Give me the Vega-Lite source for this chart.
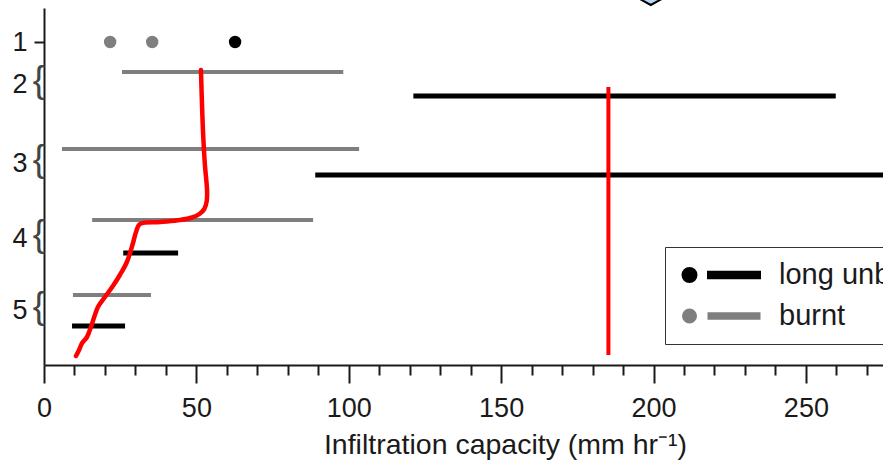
{
  "$schema": "https://vega.github.io/schema/vega-lite/v6.json",
  "width": 839,
  "height": 357,
  "autosize": {"type": "none"},
  "padding": {"left": 44, "top": 8, "right": 0, "bottom": 103},
  "background": "white",
  "config": {
    "view": {"stroke": null},
    "font": "Liberation Sans",
    "axis": {
      "labelFont": "Liberation Sans",
      "titleFont": "Liberation Sans",
      "labelColor": "#1a1a1a",
      "titleColor": "#1a1a1a",
      "domainColor": "#1a1a1a",
      "tickColor": "#1a1a1a",
      "domainWidth": 2,
      "tickWidth": 2,
      "grid": false
    }
  },
  "datasets": {
    "segments": [
      {"group": "burnt", "row": 2, "pos": 6.4, "value": 25.6, "hi": 98.2},
      {"group": "long unburnt", "row": 2, "pos": 8.8, "value": 121.2, "hi": 259.8},
      {"group": "burnt", "row": 3, "pos": 14.1, "value": 5.9, "hi": 103.4},
      {"group": "long unburnt", "row": 3, "pos": 16.7, "value": 89.0, "hi": 300},
      {"group": "burnt", "row": 4, "pos": 21.2, "value": 15.8, "hi": 88.3},
      {"group": "long unburnt", "row": 4, "pos": 24.5, "value": 26.0, "hi": 44.0},
      {"group": "burnt", "row": 5, "pos": 28.7, "value": 9.5, "hi": 35.1},
      {"group": "long unburnt", "row": 5, "pos": 31.8, "value": 9.2, "hi": 26.6}
    ],
    "points": [
      {"group": "burnt", "row": 1, "pos": 3.4, "value": 21.7},
      {"group": "burnt", "row": 1, "pos": 3.4, "value": 35.5},
      {"group": "long unburnt", "row": 1, "pos": 3.4, "value": 62.7}
    ],
    "curve": [
      {"seq": 1, "value": 51.5, "pos": 6.2},
      {"seq": 2, "value": 51.8, "pos": 9.2},
      {"seq": 3, "value": 52.2, "pos": 12.5},
      {"seq": 4, "value": 52.8, "pos": 15.7},
      {"seq": 5, "value": 53.5, "pos": 18.2},
      {"seq": 6, "value": 53.4, "pos": 19.3},
      {"seq": 7, "value": 52.6, "pos": 20.1},
      {"seq": 8, "value": 51.0, "pos": 20.6},
      {"seq": 9, "value": 48.6, "pos": 20.95},
      {"seq": 10, "value": 44.6, "pos": 21.2},
      {"seq": 11, "value": 38.1, "pos": 21.4},
      {"seq": 12, "value": 31.5, "pos": 21.6},
      {"seq": 13, "value": 30.2, "pos": 22.4},
      {"seq": 14, "value": 29.2, "pos": 23.5},
      {"seq": 15, "value": 27.2, "pos": 25.4},
      {"seq": 16, "value": 24.9, "pos": 26.7},
      {"seq": 17, "value": 22.6, "pos": 27.8},
      {"seq": 18, "value": 20.0, "pos": 28.9},
      {"seq": 19, "value": 17.7, "pos": 29.9},
      {"seq": 20, "value": 16.7, "pos": 30.7},
      {"seq": 21, "value": 15.4, "pos": 31.9},
      {"seq": 22, "value": 14.1, "pos": 32.9},
      {"seq": 23, "value": 12.5, "pos": 33.5},
      {"seq": 24, "value": 11.5, "pos": 34.2},
      {"seq": 25, "value": 10.5, "pos": 34.8}
    ],
    "threshold": [
      {"value": 185.2, "pos": 7.9, "bottom": 34.7}
    ],
    "braces": [
      {"row": 2, "pos": 7.6, "value": -1.64, "glyph": "{"},
      {"row": 3, "pos": 15.5, "value": -1.64, "glyph": "{"},
      {"row": 4, "pos": 23.0, "value": -1.64, "glyph": "{"},
      {"row": 5, "pos": 30.2, "value": -1.64, "glyph": "{"}
    ],
    "marker": [
      {"value": 199.1, "pos": -1.4}
    ]
  },
  "encoding": {
    "x": {
      "field": "value",
      "type": "quantitative",
      "scale": {"domain": [0, 275.3], "nice": false, "zero": false},
      "axis": {
        "values": [0, 10, 20, 30, 40, 50, 60, 70, 80, 90, 100, 110, 120, 130, 140, 150, 160, 170, 180, 190, 200, 210, 220, 230, 240, 250, 260, 270],
        "labelExpr": "datum.value % 50 === 0 ? datum.label : ''",
        "tickSize": {"condition": {"test": "datum.value % 50 === 0", "value": 18}, "value": 10},
        "labelFontSize": 27,
        "labelPadding": 12,
        "labelFlush": false,
        "labelOverlap": false,
        "title": "Infiltration capacity (mm hr⁻¹)",
        "titleFontSize": 28.5,
        "titleFontWeight": "normal",
        "titleX": 461,
        "titleY": 88,
        "titleAnchor": "middle",
        "titleBaseline": "alphabetic"
      }
    },
    "y": {
      "field": "pos",
      "type": "quantitative",
      "scale": {"domain": [0, 35.7], "reverse": true, "nice": false, "zero": false},
      "axis": {
        "values": [3.4, 7.6, 15.5, 23, 30.2],
        "labelExpr": "datum.value == 3.4 ? '1' : datum.value == 7.6 ? '2' : datum.value == 15.5 ? '3' : datum.value == 23 ? '4' : '5'",
        "tickSize": 10,
        "tickOpacity": {"condition": {"test": "datum.value == 3.4", "value": 1}, "value": 0},
        "labelFontSize": 27,
        "labelPadding": 7,
        "title": null
      }
    }
  },
  "layer": [
    {
      "data": {"name": "segments"},
      "mark": {"type": "rule", "strokeCap": "butt"},
      "encoding": {
        "x2": {"field": "hi"},
        "color": {
          "field": "group",
          "type": "nominal",
          "scale": {"domain": ["long unburnt", "burnt"], "range": ["#000000", "#7f7f7f"]},
          "legend": {
            "title": null,
            "orient": "none",
            "legendX": 621,
            "legendY": 239,
            "padding": 9,
            "strokeColor": "#333333",
            "fillColor": "white",
            "cornerRadius": 0,
            "labelFont": "Liberation Sans",
            "labelFontSize": 29,
            "labelColor": "#1a1a1a",
            "labelOffset": 20,
            "clipHeight": 38,
            "rowPadding": 3,
            "symbolType": "M -0.5375 0 A 0.1375 0.1375 0 1 1 -0.8125 0 A 0.1375 0.1375 0 1 1 -0.5375 0 Z M -0.175 -0.045 L 1.05 -0.045 L 1.05 0.045 L -0.175 0.045 Z",
            "symbolSize": 6400,
            "symbolStrokeWidth": 0,
            "encode": {"symbols": {"update": {"fill": {"scale": "color", "field": "value"}, "strokeWidth": {"value": 0}}}}
          }
        },
        "strokeWidth": {
          "field": "group",
          "type": "nominal",
          "scale": {"domain": ["long unburnt", "burnt"], "range": [5, 4]},
          "legend": null
        }
      }
    },
    {
      "data": {"name": "points"},
      "mark": {"type": "point", "filled": true, "shape": "circle", "size": 154, "opacity": 1},
      "encoding": {
        "color": {"field": "group", "type": "nominal", "legend": null}
      }
    },
    {
      "data": {"name": "curve"},
      "mark": {"type": "line", "color": "#ff0000", "strokeWidth": 4.5, "interpolate": "catmull-rom", "strokeCap": "round", "strokeJoin": "round"},
      "encoding": {
        "order": {"field": "seq", "type": "quantitative"}
      }
    },
    {
      "data": {"name": "threshold"},
      "mark": {"type": "rule", "color": "#ff0000", "strokeWidth": 4, "strokeCap": "butt"},
      "encoding": {
        "y2": {"field": "bottom"}
      }
    },
    {
      "data": {"name": "braces"},
      "mark": {"type": "text", "font": "Liberation Sans", "fontSize": 37, "fontWeight": "normal", "color": "#444444", "align": "center", "baseline": "middle", "dy": -3},
      "encoding": {
        "text": {"field": "glyph"}
      }
    },
    {
      "data": {"name": "marker"},
      "mark": {"type": "point", "filled": true, "shape": "M 0 -0.55 L 1 0 L 0 0.55 L -1 0 Z", "size": 1600, "fill": "#b8d8f5", "stroke": "#000000", "strokeWidth": 2, "opacity": 1},
      "encoding": {}
    }
  ]
}
